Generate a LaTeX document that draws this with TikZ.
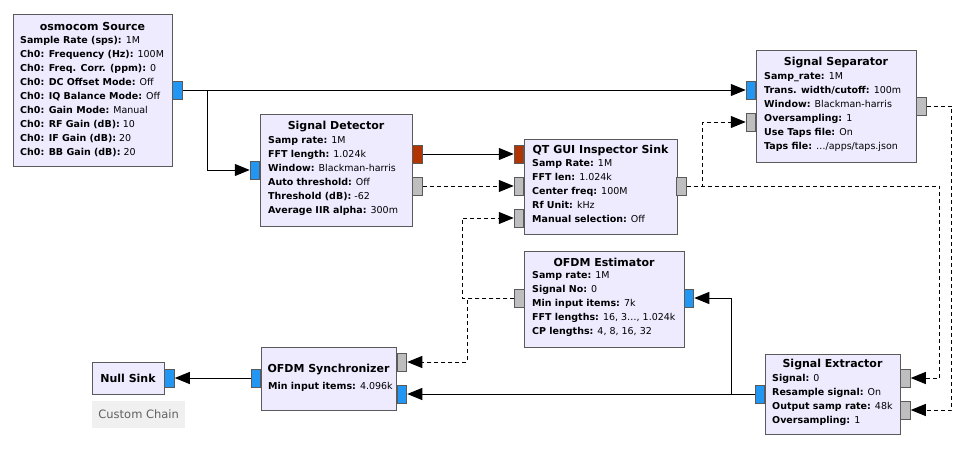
\documentclass[tikz,border=0pt]{standalone}
\usepackage{fontspec}
\setmainfont{DejaVu Sans}
\usetikzlibrary{arrows.meta}

\definecolor{blockfill}{RGB}{238,235,255}
\definecolor{blockline}{RGB}{90,90,90}
\definecolor{portblue}{RGB}{33,150,243}
\definecolor{portred}{RGB}{178,52,0}
\definecolor{portgray}{RGB}{190,190,190}
\definecolor{chainfill}{RGB}{240,240,240}
\definecolor{chaintext}{RGB}{96,96,96}

\newcommand{\kv}[2]{\textbf{#1:} #2}

\begin{document}
\begin{tikzpicture}[x=1pt, y=-1pt,
  block/.style={draw=blockline, fill=blockfill, line width=1.1pt, anchor=north west, inner sep=0pt},
  title/.style={font=\fontsize{11}{14}\selectfont\bfseries, inner sep=0pt},
  params/.style={font=\fontsize{9.5}{14}\selectfont, align=left, anchor=north west, inner sep=0pt,
    execute at begin node=\strut},
  port/.style={draw=blockline, line width=1pt, minimum width=9.5pt, minimum height=18pt, inner sep=0pt},
  wire/.style={line width=1pt, -{Triangle[length=15pt, width=12pt]}},
  msg/.style={wire, dash pattern=on 4pt off 3pt}
]
\useasboundingbox (0,0) rectangle (970,455);

% blocks
\node[block, minimum width=159, minimum height=152] (src) at (13,14) {};
\node[block, minimum width=152, minimum height=112] (det) at (260,114) {};
\node[block, minimum width=153, minimum height=95] (qt) at (524,139) {};
\node[block, minimum width=160, minimum height=112] (sep) at (756,50) {};
\node[block, minimum width=160, minimum height=96] (est) at (524,251) {};
\node[block, minimum width=135, minimum height=63] (sync) at (261,347) {};
\node[block, minimum width=72, minimum height=32] (null) at (92,362) {};
\node[block, minimum width=135, minimum height=80] (ext) at (765,354) {};

% titles
\node[title] (src-title) at (92.5,26) {osmocom Source};
\node[title] (det-title) at (336,127) {Signal Detector};
\node[title] (qt-title) at (600.5,150) {QT GUI Inspector Sink};
\node[title] (sep-title) at (836,63) {Signal Separator};
\node[title] (est-title) at (604,262) {OFDM Estimator};
\node[title] (sync-title) at (328.5,370) {OFDM Synchronizer};
\node[title] (null-title) at (128,378) {Null Sink};
\node[title] (ext-title) at (832.5,365) {Signal Extractor};

% parameters
\node[params] (src-par) at (20,35.7) {\kv{Sample Rate (sps)}{1M}\\ \kv{Ch0: Frequency (Hz)}{100M}\\
  \kv{Ch0: Freq. Corr. (ppm)}{0}\\ \kv{Ch0: DC Offset Mode}{Off}\\ \kv{Ch0: IQ Balance Mode}{Off}\\
  \kv{Ch0: Gain Mode}{Manual}\\ \kv{Ch0: RF Gain (dB)}{10}\\ \kv{Ch0: IF Gain (dB)}{20}\\
  \kv{Ch0: BB Gain (dB)}{20}};
\node[params] (det-par) at (268,136.7) {\kv{Samp rate}{1M}\\ \kv{FFT length}{1.024k}\\
  \kv{Window}{Blackman-harris}\\ \kv{Auto threshold}{Off}\\ \kv{Threshold (dB)}{-62}\\
  \kv{Average IIR alpha}{300m}};
\node[params] (qt-par) at (532,159.7) {\kv{Samp Rate}{1M}\\ \kv{FFT len}{1.024k}\\
  \kv{Center freq}{100M}\\ \kv{Rf Unit}{kHz}\\ \kv{Manual selection}{Off}};
\node[params] (sep-par) at (764,72.7) {\kv{Samp\_rate}{1M}\\ \kv{Trans. width/cutoff}{100m}\\
  \kv{Window}{Blackman-harris}\\ \kv{Oversampling}{1}\\ \kv{Use Taps file}{On}\\
  \kv{Taps file}{…/apps/taps.json}};
\node[params] (est-par) at (532,271.7) {\kv{Samp rate}{1M}\\ \kv{Signal No}{0}\\
  \kv{Min input items}{7k}\\ \kv{FFT lengths}{16, 3…, 1.024k}\\ \kv{CP lengths}{4, 8, 16, 32}};
\node[params] (sync-par) at (268,379.7) {\kv{Min input items}{4.096k}};
\node[params] (ext-par) at (772,373.7) {\kv{Signal}{0}\\ \kv{Resample signal}{On}\\
  \kv{Output samp rate}{48k}\\ \kv{Oversampling}{1}};

\node[fill=chainfill, minimum width=93, minimum height=27, inner sep=0pt, anchor=north west,
  font=\fontsize{11.5}{13}\selectfont, text=chaintext] (chain) at (92,401) {Custom Chain};

% ports
\node[port, fill=portblue] (src-out) at (177.5,90) {};
\node[port, fill=portblue] (det-in) at (255,170) {};
\node[port, fill=portred] (det-out0) at (417.5,154) {};
\node[port, fill=portgray] (det-out1) at (417.5,186) {};
\node[port, fill=portred] (qt-in0) at (519,154) {};
\node[port, fill=portgray] (qt-in1) at (519,186) {};
\node[port, fill=portgray] (qt-in2) at (519,218) {};
\node[port, fill=portgray] (qt-out) at (681.5,186) {};
\node[port, fill=portblue] (sep-in0) at (751,90) {};
\node[port, fill=portgray] (sep-in1) at (751,122) {};
\node[port, fill=portgray] (sep-out) at (921.5,106) {};
\node[port, fill=portgray] (est-in) at (519.5,298) {};
\node[port, fill=portblue] (est-out) at (689,298) {};
\node[port, fill=portblue] (sync-in) at (256,378) {};
\node[port, fill=portgray] (sync-out0) at (402,362) {};
\node[port, fill=portblue] (sync-out1) at (402,394) {};
\node[port, fill=portblue] (null-in) at (169.5,378) {};
\node[port, fill=portblue] (ext-in) at (760,394) {};
\node[port, fill=portgray] (ext-out0) at (905.5,378) {};
\node[port, fill=portgray] (ext-out1) at (905.5,410) {};

% connections
\draw[wire] (src-out.east) -- (sep-in0.west);
\draw[wire] (src-out.east) -- ++(25,0) |- (det-in.west);
\draw[wire] (det-out0.east) -- (qt-in0.west);
\draw[msg] (det-out1.east) -- (qt-in1.west);
\draw[msg] (qt-out.east) -- ++(16,0) |- (sep-in1.west);
\draw[msg] (qt-out.east) -- ++(253,0) |- (ext-out0.east);
\draw[msg] (sep-out.east) -- ++(25,0) |- (ext-out1.east);
\draw[msg] (est-in.west) -- ++(-52,0) |- (qt-in2.west);
\draw[msg] (est-in.west) -- ++(-47,0) |- (sync-out0.east);
\draw[wire] (ext-in.west) -- (sync-out1.east);
\draw[wire] (ext-in.west) -- ++(-23,0) |- (est-out.east);
\draw[wire] (sync-in.west) -- (null-in.east);

\end{tikzpicture}
\end{document}
